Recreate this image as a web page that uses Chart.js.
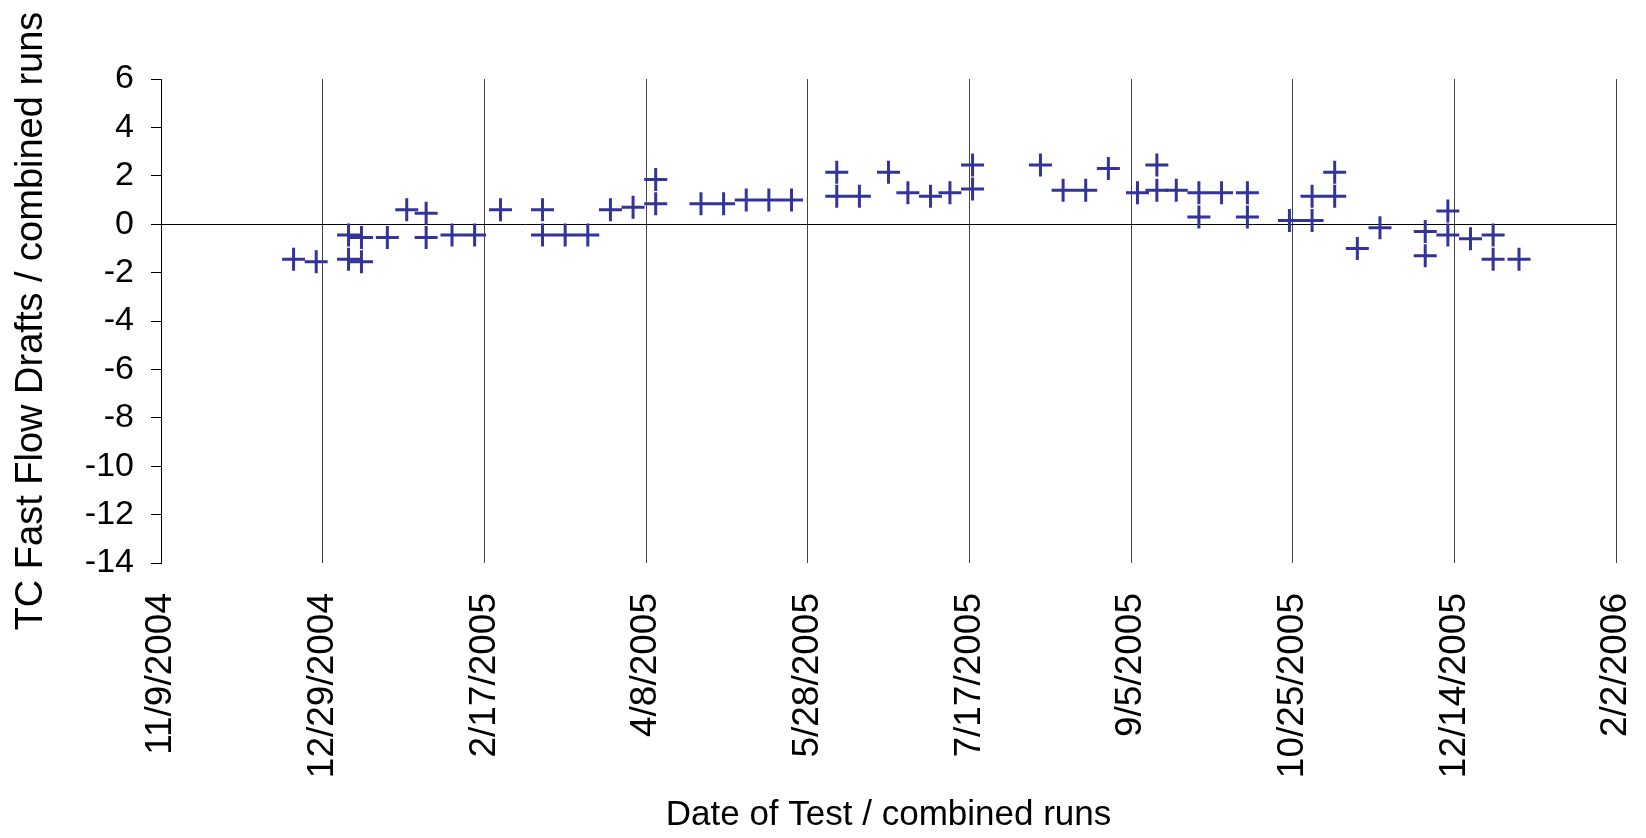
<!DOCTYPE html>
<html>
<head>
<meta charset="utf-8">
<script src="https://cdn.jsdelivr.net/npm/chart.js@4.4.1/dist/chart.umd.min.js"></script>
<style>
  body { margin: 0; background: #fff; }
  #wrap { width: 1646px; height: 838px; }
</style>
</head>
<body>
<div id="wrap"><canvas id="scatterChart"></canvas></div>
<script>
// test dates (M/D/YYYY) and readings, one entry per run
const testDates = [
  '12/20/2004', '12/27/2004', '1/6/2005', '1/6/2005', '1/10/2005', '1/10/2005', '1/18/2005',
  '1/24/2005', '1/30/2005', '1/30/2005', '2/7/2005', '2/14/2005', '2/22/2005', '3/7/2005',
  '3/7/2005', '3/14/2005', '3/21/2005', '3/28/2005', '4/4/2005', '4/11/2005', '4/11/2005',
  '4/25/2005', '5/2/2005', '5/9/2005', '5/16/2005', '5/23/2005', '6/6/2005', '6/6/2005',
  '6/13/2005', '6/22/2005', '6/28/2005', '7/5/2005', '7/11/2005', '7/18/2005', '7/18/2005',
  '8/8/2005', '8/15/2005', '8/22/2005', '8/29/2005', '9/7/2005', '9/13/2005', '9/13/2005',
  '9/19/2005', '9/26/2005', '9/26/2005', '10/3/2005', '10/11/2005', '10/11/2005', '10/24/2005',
  '10/31/2005', '10/31/2005', '11/7/2005', '11/7/2005', '11/14/2005', '11/21/2005', '12/5/2005',
  '12/5/2005', '12/12/2005', '12/12/2005', '12/19/2005', '12/26/2005', '12/26/2005', '1/3/2006'
];
const draftValues = [
  -1.45, -1.55, -0.45, -1.45, -0.55, -1.55, -0.55,
  0.6, 0.45, -0.55, -0.45, -0.45, 0.6, 0.6,
  -0.45, -0.45, -0.45, 0.6, 0.7, 1.85, 0.85,
  0.85, 0.85, 1.0, 1.0, 1.0, 2.15, 1.15,
  1.15, 2.15, 1.3, 1.15, 1.3, 2.45, 1.45,
  2.45, 1.4, 1.4, 2.3, 1.3, 2.45, 1.4,
  1.4, 1.3, 0.3, 1.3, 1.3, 0.3, 0.15,
  0.15, 1.15, 1.15, 2.15, -1.0, -0.15, -0.3,
  -1.3, 0.55, -0.45, -0.6, -0.45, -1.45, -1.45
];
// axis range as spreadsheet serial dates (11/9/2004 .. 2/2/2006, every 50 days)
const xMin = 38300, xMax = 38750, xStep = 50;
const yMin = -14, yMax = 6, yStep = 2;

const EPOCH = Date.UTC(1899, 11, 30);
const DAY = 86400000;

function toSerial(s) {
  const [m, d, y] = s.split('/').map(Number);
  return Math.round((Date.UTC(y, m - 1, d) - EPOCH) / DAY);
}
function fromSerial(n) {
  const dt = new Date(EPOCH + n * DAY);
  return (dt.getUTCMonth() + 1) + '/' + dt.getUTCDate() + '/' + dt.getUTCFullYear();
}

const points = testDates.map((d, i) => ({ x: toSerial(d), y: draftValues[i] }));

Chart.defaults.font.family = '"Liberation Sans", Arial, sans-serif';
Chart.defaults.color = '#000';

const ctx = document.getElementById('scatterChart').getContext('2d');
const scatterChart = new Chart(ctx, {
  type: 'scatter',
  data: {
    datasets: [{
      data: points,
      pointStyle: 'cross',
      pointRadius: 11.5,
      pointHoverRadius: 11.5,
      borderWidth: 3,
      borderColor: '#333399',
      backgroundColor: '#333399'
    }]
  },
  options: {
    responsive: true,
    maintainAspectRatio: false,
    animation: false,
    events: [],
    layout: { padding: { top: 79, right: 30, left: 0, bottom: 0 } },
    plugins: {
      legend: { display: false },
      tooltip: { enabled: false }
    },
    scales: {
      x: {
        type: 'linear',
        min: xMin,
        max: xMax,
        afterFit: function(scale) {
          scale.height = 275;
          scale.paddingLeft = 0;
          scale.paddingRight = 0;
        },
        border: { display: false },
        grid: { color: '#444', lineWidth: 1, drawTicks: false },
        ticks: {
          stepSize: xStep,
          autoSkip: false,
          minRotation: 90,
          maxRotation: 90,
          padding: 30,
          font: { size: 37 },
          callback: function(value) { return fromSerial(value); }
        },
        title: {
          display: true,
          text: 'Date of Test / combined runs',
          font: { size: 35 },
          padding: { top: 0, bottom: 2 }
        }
      },
      y: {
        min: yMin,
        max: yMax,
        afterFit: function(scale) { scale.width = 161; },
        border: { display: true, color: '#000', width: 1 },
        grid: {
          color: function(c) { return c.tick && c.tick.value === 0 ? '#000' : 'rgba(0,0,0,0)'; },
          tickColor: '#000',
          tickLength: 10,
          lineWidth: 1
        },
        ticks: {
          stepSize: yStep,
          padding: 17,
          font: { size: 34 }
        },
        title: {
          display: true,
          text: 'TC Fast Flow Drafts / combined runs',
          font: { size: 38 },
          padding: { top: 9, bottom: 0 }
        }
      }
    }
  }
});
</script>
</body>
</html>
